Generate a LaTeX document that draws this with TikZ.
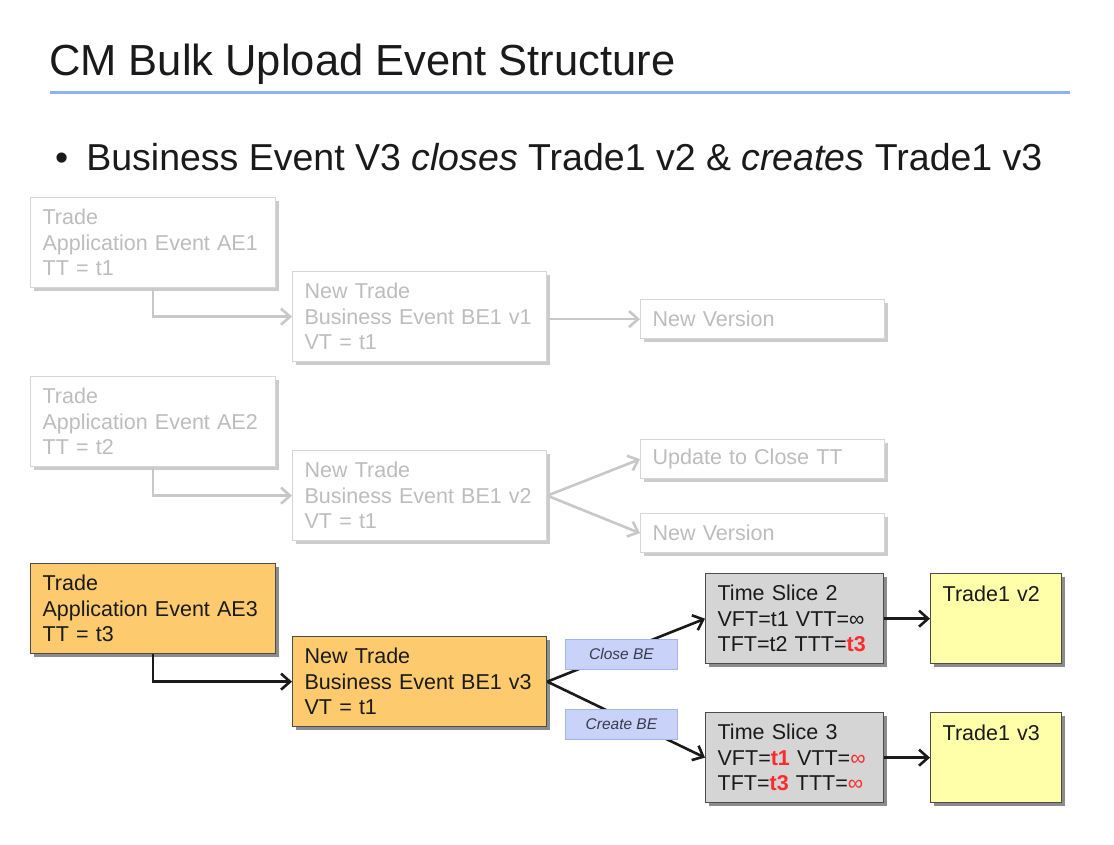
\documentclass[tikz,border=0pt]{standalone}
\usepackage{fontspec}
\setmainfont{Liberation Sans}
\usepackage{xcolor}
\usetikzlibrary{arrows.meta,shadows}

\definecolor{fadeline}{HTML}{D6D6D6}
\definecolor{fadearr}{HTML}{C8C8C8}
\definecolor{fadetext}{HTML}{BDBDBD}
\definecolor{aefill}{HTML}{FDCB6E}
\definecolor{tsfill}{HTML}{D5D5D5}
\definecolor{trfill}{HTML}{FFFFAA}
\definecolor{tagfill}{HTML}{C9D3FA}
\definecolor{tagline}{HTML}{A6B4E6}
\definecolor{tagtext}{HTML}{3A3A4A}
\definecolor{hotred}{HTML}{FF2A2A}
\definecolor{rulblue}{HTML}{90B2F0}
\definecolor{ink}{HTML}{1A1A1A}

\newcommand{\redt}[1]{{\color{hotred}\bfseries #1}}

\begin{document}
\begin{tikzpicture}[x=1pt,y=-1pt,
  box/.style={draw, anchor=north west, align=left, inner xsep=12pt, inner ysep=0pt,
    line width=1.3pt, font=\fontsize{21.5}{25.5}\selectfont},
  faded/.style={box, draw=fadeline, fill=white, text=fadetext,
    drop shadow={shadow xshift=3pt, shadow yshift=-3pt, fill=black!20, opacity=1}},
  solid/.style={box, draw=black!70, text=ink,
    drop shadow={shadow xshift=3pt, shadow yshift=-3pt, fill=black!45, opacity=1}},
  aebox/.style={text width=221pt, minimum height=90pt},
  bebox/.style={text width=230pt, minimum height=90pt},
  nvbox/.style={text width=220pt, minimum height=39pt},
  tsbox/.style={solid, fill=tsfill, text width=154pt, minimum height=90pt},
  trbox/.style={solid, fill=trfill, text width=107pt, text height=16pt, text depth=50pt, inner ysep=12pt},
  tag/.style={draw=tagline, fill=tagfill, text=tagtext, line width=0.8pt, inner sep=0pt,
    minimum width=112pt, minimum height=30pt, font=\fontsize{15.5}{15.5}\selectfont\itshape},
  fadearrow/.style={draw=fadearr, line width=2.6pt, -{Straight Barb[length=9pt,width=16pt]}},
  darkarrow/.style={draw=ink, line width=2.6pt, -{Straight Barb[length=9pt,width=16pt]}}
]
\useasboundingbox[fill=white] (0,0) rectangle (1114,844);

\node[anchor=base west, inner sep=0pt, font=\fontsize{43.5}{50}\selectfont, text=ink] (title) at (49,75) {CM Bulk Upload Event Structure};
\draw[rulblue, line width=3pt] (50,92) -- (1070,92);
\node[anchor=base west, inner sep=0pt, font=\fontsize{37.5}{42}\selectfont, text=ink] (point) at (55,170)
  {\textbullet\hspace{18pt}Business Event V3 \textit{closes} Trade1 v2 \& \textit{creates} Trade1 v3};

% first and second upload, greyed out
\node[faded, aebox] (ae1) at (30,197) {Trade\\Application Event AE1\\TT = t1};
\node[faded, bebox] (be1) at (292,271) {New Trade\\Business Event BE1 v1\\VT = t1};
\node[faded, nvbox] (nv1) at (640,299) {New Version};
\node[faded, aebox] (ae2) at (30,376) {Trade\\Application Event AE2\\TT = t2};
\node[faded, bebox] (be2) at (292,450) {New Trade\\Business Event BE1 v2\\VT = t1};
\node[faded, nvbox] (uc2) at (640,439) {Update to Close TT};
\node[faded, nvbox] (nv2) at (640,513) {New Version};

% third upload
\node[solid, fill=aefill, aebox] (ae3) at (30,563) {Trade\\Application Event AE3\\TT = t3};
\node[solid, fill=aefill, bebox] (be3) at (292,636) {New Trade\\Business Event BE1 v3\\VT = t1};
\node[tsbox] (ts2) at (705,573) {Time Slice 2\\VFT=t1 VTT=∞\\TFT=t2 TTT=\redt{t3}};
\node[tsbox] (ts3) at (705,712) {Time Slice 3\\VFT=\redt{t1} VTT={\color{hotred}∞}\\TFT=\redt{t3} TTT={\color{hotred}∞}};
\node[trbox] (tv2) at (930,573) {Trade1 v2};
\node[trbox] (tv3) at (930,712) {Trade1 v3};

\draw[fadearrow] (ae1.south) |- (be1.west);
\draw[fadearrow] (be1.east |- nv1.west) -- (nv1.west);
\draw[fadearrow] (ae2.south) |- (be2.west);
\draw[fadearrow] (be2.east) -- (uc2.west);
\draw[fadearrow] (be2.east) -- (nv2.west);

\draw[darkarrow] (ae3.south) |- (be3.west);
\draw[darkarrow] (be3.east) -- node[tag, pos=0.47, yshift=-2pt] (close) {Close BE} (ts2.west);
\draw[darkarrow] (be3.east) -- node[tag, pos=0.47, yshift=-7pt] (create) {Create BE} (ts3.west);
\draw[darkarrow] (ts2) -- (tv2);
\draw[darkarrow] (ts3) -- (tv3);
\end{tikzpicture}
\end{document}
